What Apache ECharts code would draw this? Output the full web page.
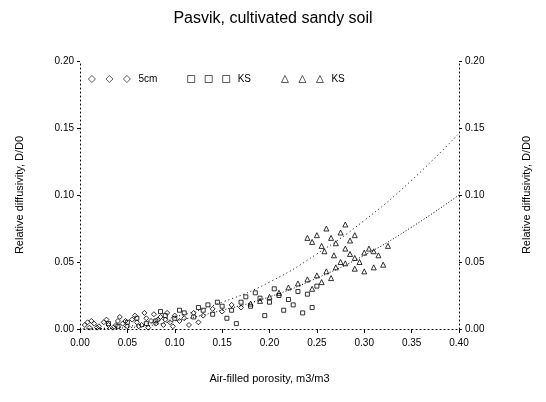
<!DOCTYPE html>
<html>
<head>
<meta charset="utf-8">
<script src="https://cdn.jsdelivr.net/npm/echarts@6/dist/echarts.min.js"></script>
<style>html,body{margin:0;padding:0;background:#fff}#c{width:546px;height:402px}</style>
</head>
<body>
<div id="c"></div>
<script>
const titleText = 'Pasvik, cultivated sandy soil';
const xName = 'Air-filled porosity, m3/m3';
const yName = 'Relative diffusivity, D/D0';
const seriesNames = ['5cm', 'KS', 'KS '];
const xTicks = [0, 0.05, 0.10, 0.15, 0.20, 0.25, 0.30, 0.35, 0.40];
const yTicks = [0, 0.05, 0.10, 0.15, 0.20];

const pts5cm = [[0.005,0.003],[0.010,0.001],[0.015,0.004],[0.020,0.002],[0.025,0.005],[0.030,0.003],[0.035,0.001],[0.040,0.006],[0.045,0.004],[0.050,0.002],[0.055,0.007],[0.060,0.005],[0.065,0.003],[0.070,0.008],[0.075,0.006],[0.080,0.004],[0.085,0.009],[0.090,0.007],[0.095,0.005],[0.100,0.010],[0.105,0.006],[0.110,0.008],[0.120,0.012],[0.130,0.010],[0.140,0.015],[0.150,0.013],[0.160,0.018],[0.170,0.016],[0.012,0.006],[0.028,0.007],[0.042,0.009],[0.058,0.010],[0.068,0.012],[0.078,0.011],[0.088,0.003],[0.098,0.002],[0.115,0.003],[0.125,0.005],[0.048,0.006],[0.062,0.002],[0.072,0.001],[0.082,0.007],[0.092,0.012],[0.038,0.003],[0.018,0.001],[0.008,0.005]];
const ptsKS1 = [[0.030,0.004],[0.040,0.002],[0.050,0.005],[0.060,0.008],[0.070,0.004],[0.080,0.006],[0.090,0.010],[0.100,0.008],[0.110,0.012],[0.120,0.009],[0.130,0.014],[0.140,0.011],[0.150,0.017],[0.160,0.014],[0.170,0.020],[0.180,0.017],[0.190,0.023],[0.200,0.020],[0.210,0.025],[0.220,0.022],[0.230,0.028],[0.240,0.026],[0.250,0.032],[0.145,0.020],[0.155,0.008],[0.165,0.004],[0.185,0.027],[0.205,0.030],[0.225,0.018],[0.245,0.016],[0.235,0.012],[0.215,0.014],[0.195,0.010],[0.175,0.024],[0.135,0.018],[0.125,0.016],[0.105,0.014],[0.085,0.013]];
const ptsKS2 = [[0.180,0.019],[0.190,0.021],[0.200,0.024],[0.210,0.027],[0.220,0.031],[0.230,0.034],[0.240,0.037],[0.245,0.030],[0.250,0.040],[0.255,0.035],[0.260,0.043],[0.265,0.038],[0.270,0.046],[0.275,0.050],[0.280,0.049],[0.285,0.056],[0.290,0.053],[0.295,0.050],[0.300,0.057],[0.305,0.060],[0.310,0.058],[0.245,0.065],[0.250,0.070],[0.255,0.062],[0.260,0.075],[0.265,0.068],[0.270,0.064],[0.275,0.072],[0.280,0.060],[0.285,0.066],[0.290,0.070],[0.240,0.068],[0.290,0.045],[0.300,0.043],[0.310,0.046],[0.320,0.048],[0.315,0.055],[0.325,0.062],[0.280,0.078],[0.258,0.058],[0.268,0.055]];

const curveX = [0, 0.05, 0.10, 0.15, 0.20, 0.25, 0.30, 0.35, 0.40];
const upperCurve = [0, 0.002, 0.009, 0.020, 0.035, 0.056, 0.081, 0.111, 0.146];
const lowerCurve = [0, 0.001, 0.006, 0.014, 0.024, 0.038, 0.055, 0.076, 0.100];

const font = 'Liberation Sans, Arial, sans-serif';
const pair = (xs, ys) => xs.map((x, i) => [x, ys[i]]);

const icons = {
  diamond: 'path://M4,0L8,4L4,8L0,4Z M24,0L28,4L24,8L20,4Z M44,0L48,4L44,8L40,4Z',
  rect: 'path://M0,0L8,0L8,8L0,8Z M20,0L28,0L28,8L20,8Z M40,0L48,0L48,8L40,8Z',
  triangle: 'path://M4,0L8,8L0,8Z M24,0L28,8L20,8Z M44,0L48,8L40,8Z'
};

const scatterStyle = {color: 'rgba(0,0,0,0)', borderColor: '#000', borderWidth: 1};

function yAxisCfg(pos) {
  return {
    type: 'value', position: pos, min: 0, max: 0.2, interval: 0.05,
    name: yName, nameLocation: 'middle', nameRotate: 90,
    nameGap: pos === 'left' ? 55 : 62,
    nameTextStyle: {color: '#000', fontSize: 11, fontFamily: font},
    axisLine: {show: true, lineStyle: {color: '#000', type: [1, 3], width: 1}},
    axisTick: {show: true, length: 3, lineStyle: {color: '#000'}},
    axisLabel: {color: '#000', fontSize: 10, fontFamily: font, margin: 6,
      formatter: v => yTicks.some(t => Math.abs(t - v) < 1e-9) ? v.toFixed(2) : ''},
    splitLine: {show: false}
  };
}

const chart = echarts.init(document.getElementById('c'), null, {renderer: 'canvas'});
chart.setOption({
  animation: false,
  backgroundColor: '#fff',
  title: {text: titleText, left: 'center', top: 6,
    textStyle: {color: '#000', fontSize: 16, fontWeight: 'normal', fontFamily: font}},
  grid: {left: 80, right: 87, top: 61, bottom: 73},
  legend: {
    left: 83, top: 69, itemWidth: 48, itemHeight: 7, itemGap: 30,
    textStyle: {color: '#000', fontSize: 10, fontFamily: font},
    data: [
      {name: seriesNames[0], icon: icons.diamond},
      {name: seriesNames[1], icon: icons.rect},
      {name: seriesNames[2], icon: icons.triangle}
    ],
    itemStyle: {color: 'rgba(0,0,0,0)', borderColor: '#000', borderWidth: 0.8}
  },
  xAxis: {
    type: 'value', min: 0, max: 0.4, interval: 0.05,
    name: xName, nameLocation: 'middle', nameGap: 44,
    nameTextStyle: {color: '#000', fontSize: 11, fontFamily: font},
    axisLine: {show: true, onZero: false, lineStyle: {color: '#000', type: [1, 3], width: 1}},
    axisTick: {show: true, length: 4, lineStyle: {color: '#000'}},
    axisLabel: {color: '#000', fontSize: 10, fontFamily: font, margin: 9,
      formatter: v => xTicks.some(t => Math.abs(t - v) < 1e-9) ? v.toFixed(2) : ''},
    splitLine: {show: false}
  },
  yAxis: [yAxisCfg('left'), yAxisCfg('right')],
  series: [
    {name: seriesNames[0], type: 'scatter', symbol: 'diamond', symbolSize: 5, data: pts5cm, itemStyle: scatterStyle},
    {name: seriesNames[1], type: 'scatter', symbol: 'rect', symbolSize: 4, data: ptsKS1, itemStyle: scatterStyle},
    {name: seriesNames[2], type: 'scatter', symbol: 'triangle', symbolSize: 5, data: ptsKS2, itemStyle: scatterStyle},
    {name: 'upper', type: 'line', smooth: true, showSymbol: false, symbol: 'none', data: pair(curveX, upperCurve),
      lineStyle: {color: '#000', width: 1, type: [1, 3]}},
    {name: 'lower', type: 'line', smooth: true, showSymbol: false, symbol: 'none', data: pair(curveX, lowerCurve),
      lineStyle: {color: '#000', width: 1, type: [1, 2]}}
  ]
});
</script>
</body>
</html>
